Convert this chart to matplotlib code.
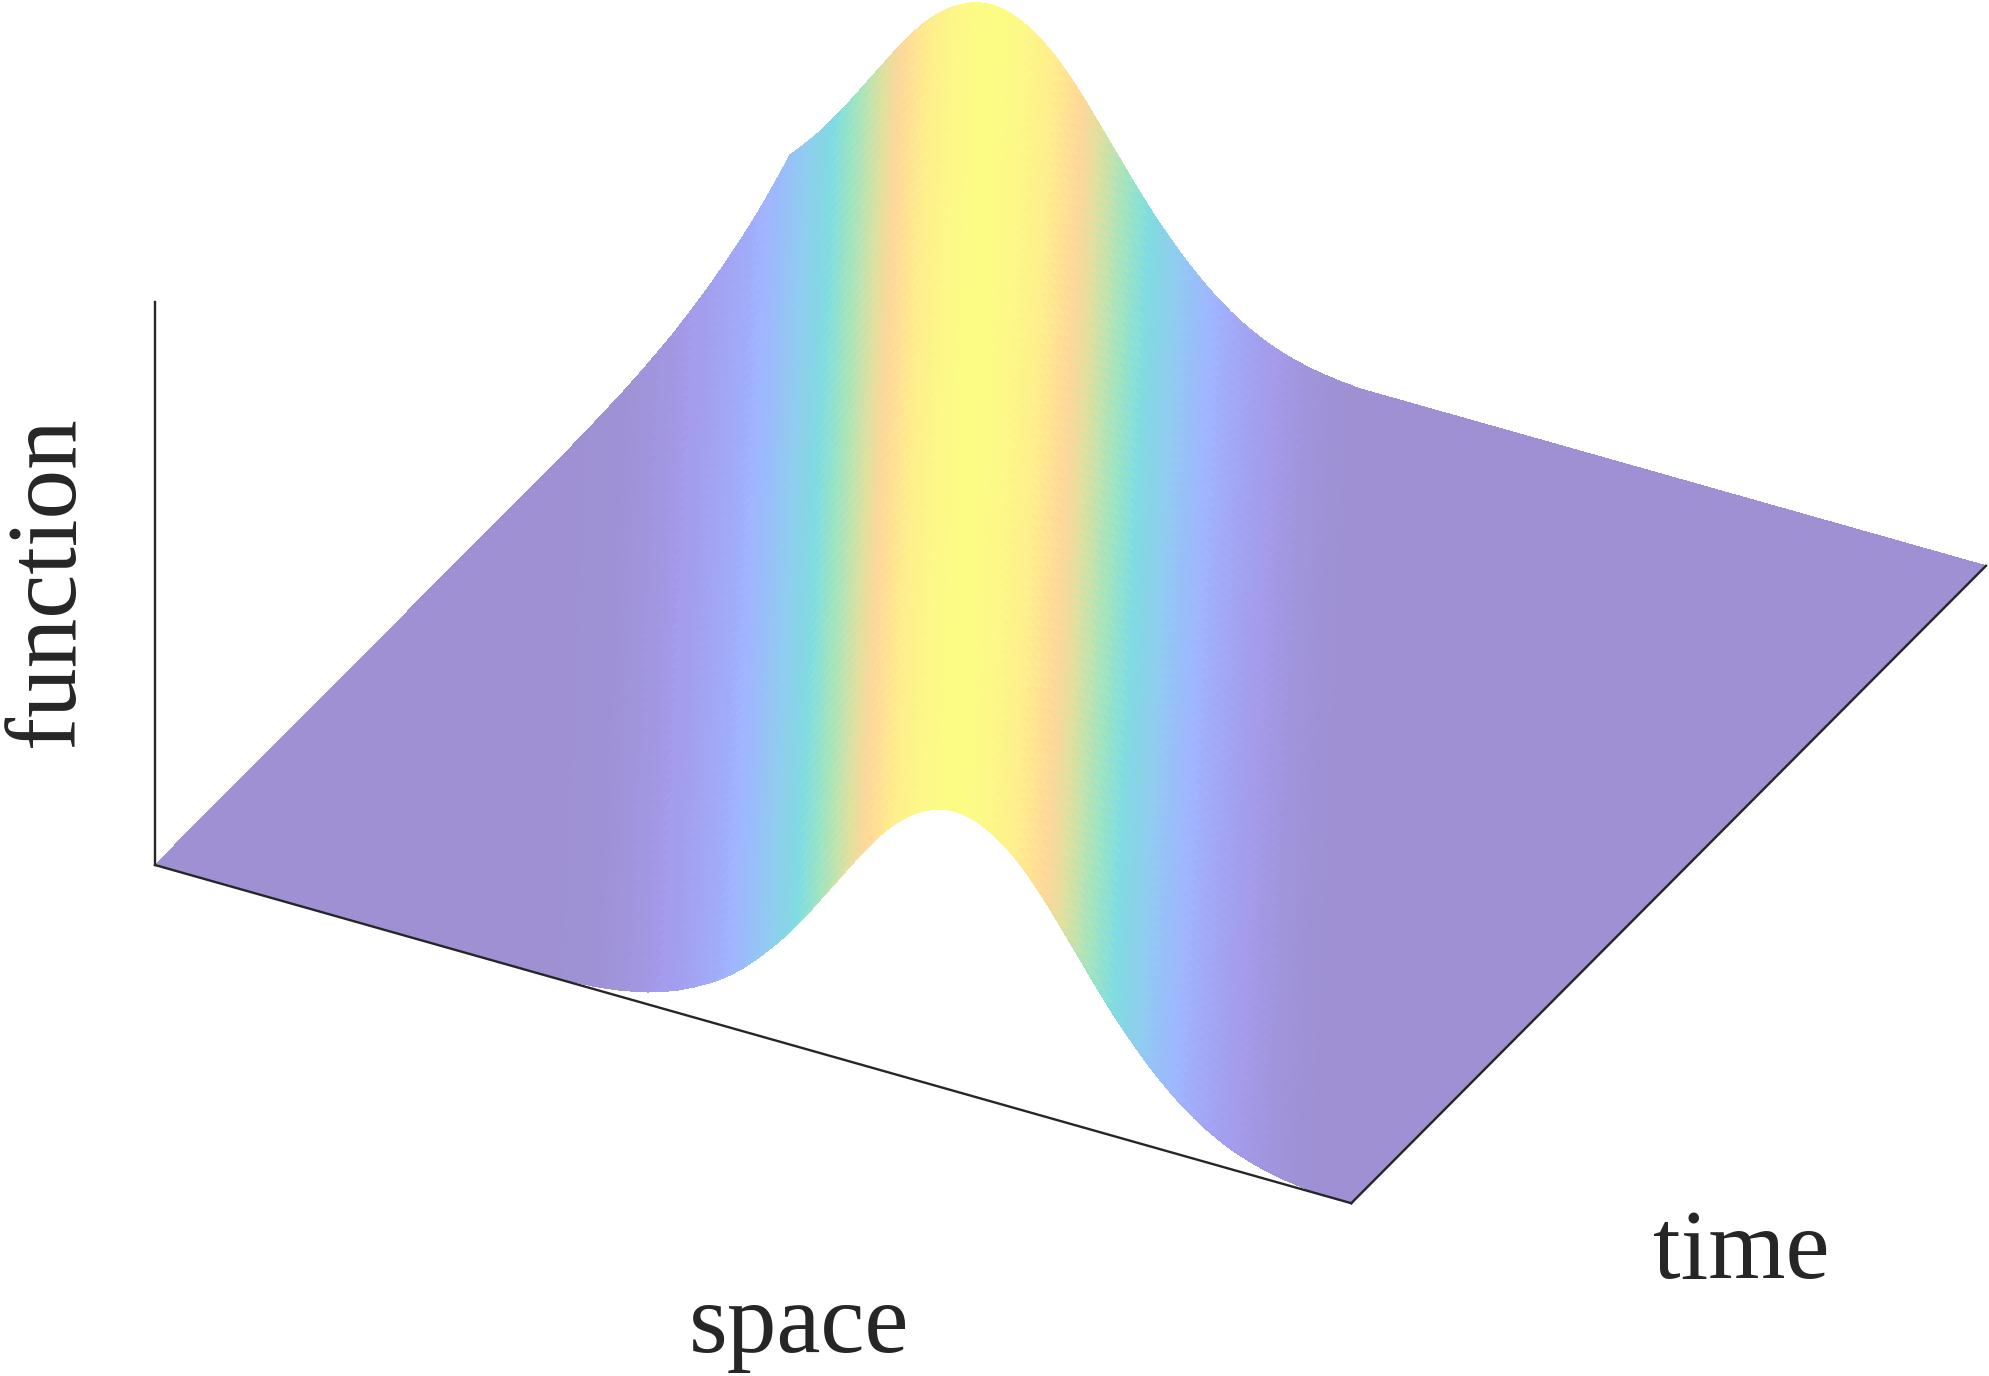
from __future__ import annotations

import matplotlib

matplotlib.use("Agg")

import matplotlib.pyplot as plt
import numpy as np
from matplotlib.colors import LinearSegmentedColormap, Normalize
from mpl_toolkits.mplot3d import proj3d

WIDTH = 1990
HEIGHT = 1376
AXES_SIZE = 2600

N_SPACE = 161
N_TIME = 81
PEAK_INDEX = 107
Z_TOP = 563.0

PULSE_LEFT = [
    0, 0.5, 1, 1, 1.5, 2, 2.5, 3, 4, 5, 6, 7.5, 9, 10.5, 12.5, 15, 17.5, 20, 23, 26.5,
    30, 34, 38, 42.5, 47.5, 53, 59, 65.5, 72.5, 80, 88, 96, 104.5, 113.5, 123, 133, 143,
    153.5, 164, 174.5, 185, 195.5, 206, 216, 225.5, 234.5, 243, 250.5, 257, 263, 268,
    272, 275.5, 278, 279.5,
]
PULSE_PEAK = [280]
PULSE_RIGHT = [
    279.5, 278, 275.5, 272, 268, 263, 257, 250.5, 243, 234.5, 225.5, 216, 206, 195.5,
    185, 174.5, 164, 153.5, 143, 133, 123, 113.5, 104.5, 96, 87.5, 79.5, 72, 65, 58,
    52, 46, 40.5, 35.5, 31, 27, 23, 19.5, 16.5, 14, 11.5, 9.5, 7.5, 6, 4.5, 3.5, 2.5,
    1.5, 1, 0,
]

COLOR_STOPS = [0.0, 0.06, 0.19, 0.32, 0.44, 0.55, 0.68, 0.78, 0.90, 1.0]
COLOR_VALUES = [
    "#9e90d2", "#a49bec", "#a0b4ff", "#90ccf0", "#80dce0",
    "#a0e4c0", "#dce0a0", "#ffd89a", "#feef8c", "#fcfc85",
]

AXIS_LINES = [
    ([0, 1], [0, 0], [0, 0]),
    ([1, 1], [0, 1], [0, 0]),
    ([0, 0], [0, 0], [0, Z_TOP]),
]

LABELS = [
    ("function", 73, 582, 90),
    ("space", 799, 1352, 0),
    ("time", 1741, 1278, 0),
]


def project(ax, x: float, y: float, z: float) -> np.ndarray:
    px, py, _ = proj3d.proj_transform(x, y, z, ax.get_proj())
    return ax.transData.transform((px, py))


def fit_axes(ax, origin_px: tuple[float, float], right_px: float) -> None:
    # scale and shift the box so the left corner and right corner land on the reference pixels
    ax.apply_aspect()
    span = project(ax, 1, 1, 0)[0] - project(ax, 0, 0, 0)[0]
    ax.set_box_aspect((1, 1, 0.491), zoom=(right_px - origin_px[0]) / span)
    start = project(ax, 0, 0, 0)
    pos = ax.get_position()
    ax.set_position(
        [
            pos.x0 + (origin_px[0] - start[0]) / WIDTH,
            pos.y0 + (HEIGHT - origin_px[1] - start[1]) / HEIGHT,
            pos.width,
            pos.height,
        ]
    )
    ax.apply_aspect()


def main() -> None:
    plt.rcParams["font.family"] = ["Liberation Serif", "DejaVu Serif"]

    pulse = np.array(PULSE_LEFT + PULSE_PEAK + PULSE_RIGHT, dtype=float)
    profile = np.zeros(N_SPACE + N_TIME - 1)
    start = PEAK_INDEX - len(PULSE_LEFT)
    profile[start:start + len(pulse)] = pulse

    space = np.linspace(0, 1, N_SPACE)
    time = np.linspace(0, 1, N_TIME)
    grid_space, grid_time = np.meshgrid(space, time)
    # the pulse moves one space step back per time step
    heights = profile[np.add.outer(np.arange(N_TIME), np.arange(N_SPACE))]

    cmap = LinearSegmentedColormap.from_list("pulse", list(zip(COLOR_STOPS, COLOR_VALUES)))

    fig = plt.figure(figsize=(WIDTH / 100, HEIGHT / 100), dpi=100, facecolor="white")
    ax = fig.add_axes(
        [
            (WIDTH - AXES_SIZE) / 2 / WIDTH,
            (HEIGHT - AXES_SIZE) / 2 / HEIGHT,
            AXES_SIZE / WIDTH,
            AXES_SIZE / HEIGHT,
        ],
        projection="3d",
        proj_type="ortho",
    )
    ax.computed_zorder = False
    surface = ax.plot_surface(
        grid_space,
        grid_time,
        heights,
        rstride=1,
        cstride=1,
        cmap=cmap,
        norm=Normalize(0, pulse.max()),
        shade=False,
        linewidth=0,
        antialiased=False,
        zorder=1,
    )
    surface.set_clip_on(False)

    for xs, ys, zs in AXIS_LINES:
        ax.plot(xs, ys, zs, color="#262626", linewidth=1.7, zorder=2, clip_on=False)

    ax.set_xlim(0, 1, view_margin=0)
    ax.set_ylim(0, 1, view_margin=0)
    ax.set_zlim(0, Z_TOP, view_margin=0)
    ax.view_init(elev=32.2, azim=-62.05)
    ax.set_box_aspect((1, 1, 0.491))
    ax.set_axis_off()
    fit_axes(ax, (155, 865), 1986)

    for text, x, y, rotation in LABELS:
        fig.text(
            x / WIDTH,
            1 - y / HEIGHT,
            text,
            fontsize=71.5,
            color="#262626",
            ha="center",
            va="baseline",
            rotation=rotation,
            rotation_mode="anchor",
        )

    fig.savefig("out.png", dpi=100)
    plt.close(fig)


if __name__ == "__main__":
    main()
